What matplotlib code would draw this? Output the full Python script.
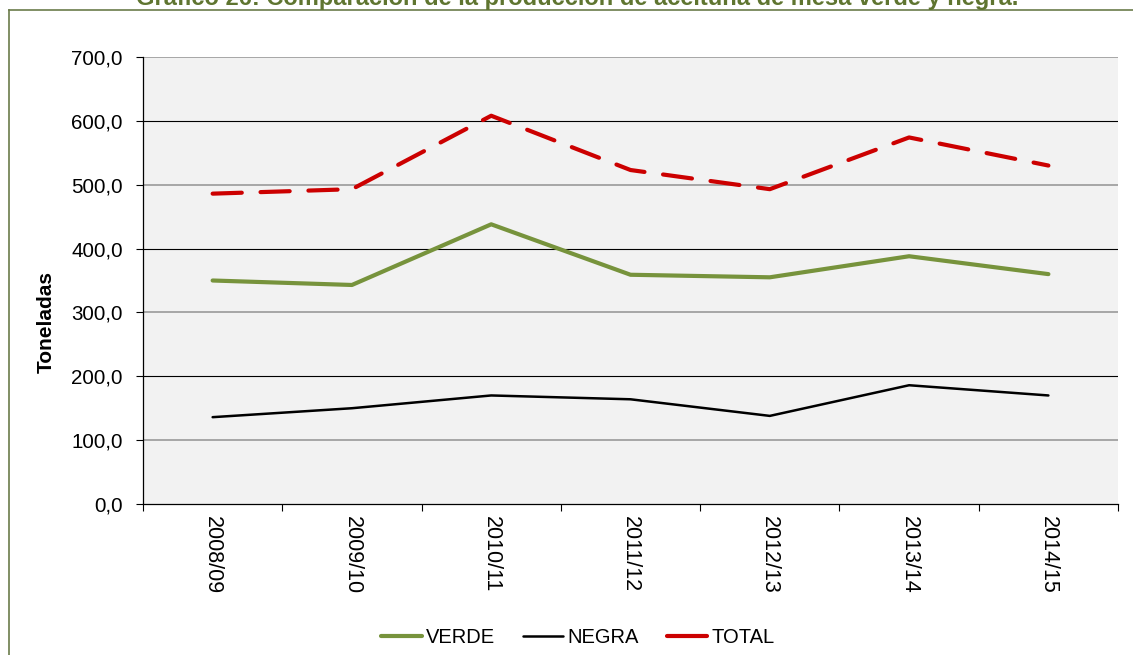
import matplotlib
matplotlib.use('Agg')
import matplotlib.pyplot as plt
from matplotlib.lines import Line2D
import numpy as np

plt.rcParams['font.family'] = ['Liberation Sans', 'DejaVu Sans']

# Datos (toneladas)
campanas = ['2008/09', '2009/10', '2010/11', '2011/12', '2012/13', '2013/14', '2014/15']
verde = [350, 343, 438, 359, 355, 388, 360]
negra = [136, 150, 170, 164, 138, 186, 170]
total = [486, 493, 608, 523, 493, 574, 530]

yticks = [0, 100, 200, 300, 400, 500, 600, 700]

fig = plt.figure(figsize=(11.33, 6.55), dpi=100)
ax = fig.add_axes([0.1262, 0.2305, 0.9868 - 0.1262, 0.913 - 0.2305])
ax.set_facecolor('#f2f2f2')

x = np.arange(len(campanas))

# gridlines (alternating tones as in the original)
for i, v in enumerate(yticks[1:]):
    ax.axhline(v, color='#a6a6a6' if i % 2 == 0 else '#000000',
               lw=1.4 if i % 2 == 0 else 0.8, zorder=1)

ax.plot(x, verde, color='#77933c', lw=3.0, solid_capstyle='round',
        solid_joinstyle='round', zorder=3, label='VERDE')
ax.plot(x, negra, color='#000000', lw=1.8, solid_capstyle='round',
        zorder=3, label='NEGRA')
ax.plot(x, total, color='#cc0000', lw=3.0, dashes=(7, 4.5),
        dash_capstyle='round', zorder=3, label='TOTAL')

ax.set_xlim(-0.5, len(campanas) - 0.5)
ax.set_ylim(0, 700)
ax.set_yticks(yticks)
ax.set_yticklabels([f'{v:.1f}'.replace('.', ',') for v in yticks], fontsize=14.8)

ax.set_xticks(np.arange(-0.5, len(campanas)))
ax.set_xticklabels([])
ax.set_xticks(x, minor=True)
ax.set_xticklabels(campanas, minor=True, rotation=270, fontsize=15.5)
ax.tick_params(axis='x', which='major', length=5, width=0.8)
ax.tick_params(axis='x', which='minor', length=0, pad=8.5)
ax.tick_params(axis='y', length=5, width=0.8, pad=9.5)

for s in ['top', 'right']:
    ax.spines[s].set_visible(False)
ax.spines['left'].set_linewidth(0.9)
ax.spines['bottom'].set_linewidth(0.9)

ax.set_ylabel('Toneladas', fontsize=15, fontweight='bold')
ax.yaxis.set_label_coords(-0.0895, 0.407)

handles = [
    Line2D([], [], color='#77933c', lw=3.0, solid_capstyle='round'),
    Line2D([], [], color='#000000', lw=1.8, solid_capstyle='round'),
    Line2D([], [], color='#cc0000', lw=3.0, solid_capstyle='round'),
]
fig.legend(handles, ['VERDE', 'NEGRA', 'TOTAL'], loc='center',
           bbox_to_anchor=(0.51, 0.026), ncol=3, frameon=False, fontsize=14.5,
           handlelength=2.0, handletextpad=0.2, columnspacing=1.4)

# marco del grafico
frame_c = '#6b7b4a'
fig.add_artist(Line2D([9 / 1133, 1], [1 - 10 / 655, 1 - 10 / 655],
                      transform=fig.transFigure, color=frame_c, lw=1.2))
fig.add_artist(Line2D([9 / 1133, 9 / 1133], [0, 1 - 10 / 655],
                      transform=fig.transFigure, color=frame_c, lw=1.2))

# titulo (recortado en la parte superior, como en el original)
fig.text(0.509, 1 - 5 / 655,
         'Gráfico 26: Comparación de la producción de aceituna de mesa verde y negra.',
         ha='center', va='baseline', fontsize=17, fontweight='bold', color='#5f7530')

fig.savefig('out.png', dpi=100)
